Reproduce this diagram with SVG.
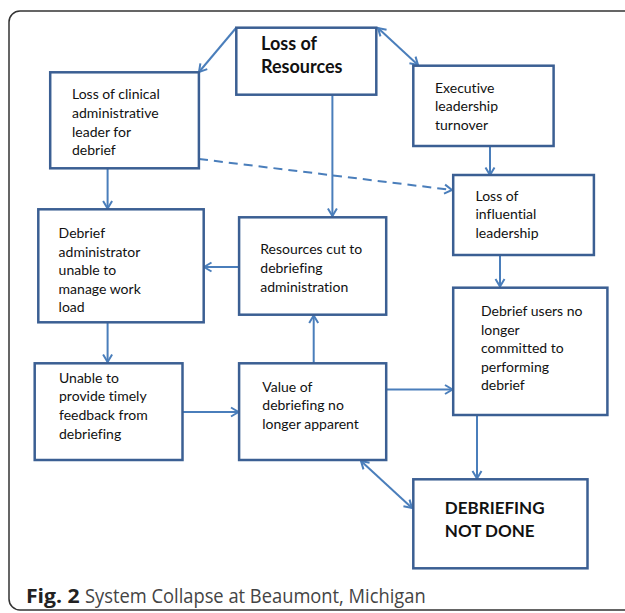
<svg xmlns="http://www.w3.org/2000/svg" width="625" height="613" viewBox="0 0 625 613">
<defs>
<style>
.box{fill:#fff;stroke:#3b5f93;stroke-width:2.5}
.t{font-family:Lato,"Liberation Sans",sans-serif;font-size:14px;fill:#111;font-variant-ligatures:none}
.b{font-family:Lato,"Liberation Sans",sans-serif;font-weight:bold;fill:#111}
.c{fill:none;stroke:#4a7ebb;stroke-width:2}
.cap{font-family:"Open Sans",Lato,sans-serif;font-size:19.5px;fill:#444}
</style>
<marker id="ah" viewBox="0 0 12 12" refX="11" refY="6" markerWidth="12" markerHeight="12" markerUnits="userSpaceOnUse" orient="auto-start-reverse">
<path d="M3.5,1.5 L11,6 L3.5,10.5" fill="none" stroke="#4a7ebb" stroke-width="2"/>
</marker>
</defs>
<rect width="625" height="613" fill="#fff"/>
<rect x="9" y="11" width="640" height="599" rx="11" ry="11" fill="none" stroke="#333" stroke-width="1.5"/>

<g id="connectors">
<line class="c" x1="236" y1="28" x2="199" y2="72" marker-end="url(#ah)"/>
<line class="c" x1="378" y1="28" x2="418" y2="65" marker-start="url(#ah)" marker-end="url(#ah)"/>
<line class="c" x1="490" y1="146" x2="490" y2="175" marker-end="url(#ah)"/>
<line class="c" x1="199" y1="159" x2="452" y2="190" stroke-dasharray="9,6" marker-end="url(#ah)"/>
<line class="c" x1="107.6" y1="168" x2="107.6" y2="208.5" marker-end="url(#ah)"/>
<line class="c" x1="332.4" y1="95" x2="332.4" y2="216" marker-end="url(#ah)"/>
<line class="c" x1="239" y1="267" x2="204" y2="267" marker-end="url(#ah)"/>
<line class="c" x1="500" y1="255" x2="500" y2="286.5" marker-end="url(#ah)"/>
<line class="c" x1="107.6" y1="322" x2="107.6" y2="362" marker-end="url(#ah)"/>
<line class="c" x1="313.7" y1="363" x2="313.7" y2="315.5" marker-end="url(#ah)"/>
<line class="c" x1="386" y1="389.5" x2="452.5" y2="389.5" marker-end="url(#ah)"/>
<line class="c" x1="182.5" y1="412" x2="238.5" y2="412" marker-end="url(#ah)"/>
<line class="c" x1="477" y1="415" x2="477" y2="478.5" marker-end="url(#ah)"/>
<line class="c" x1="361" y1="461" x2="412" y2="508" marker-start="url(#ah)" marker-end="url(#ah)"/>
</g>

<g id="loss-of-resources">
<rect class="box" x="236.3" y="27.7" width="140" height="67"/>
<text class="b" font-size="18" x="261" y="50">Loss of</text>
<text class="b" font-size="18" x="261" y="73">Resources</text>
</g>

<g id="loss-clinical">
<rect class="box" x="50.2" y="72.3" width="148.7" height="96"/>
<text class="t" x="72" y="99">Loss of clinical</text>
<text class="t" x="72" y="117.8">administrative</text>
<text class="t" x="72" y="136.6">leader for</text>
<text class="t" x="72" y="155.4">debrief</text>
</g>

<g id="executive">
<rect class="box" x="413.3" y="65.7" width="140.3" height="80.3"/>
<text class="t" x="435" y="92.7">Executive</text>
<text class="t" x="435" y="111.3">leadership</text>
<text class="t" x="435" y="130">turnover</text>
</g>

<g id="loss-influential">
<rect class="box" x="453.2" y="175" width="140.7" height="80"/>
<text class="t" x="475.5" y="200.5">Loss of</text>
<text class="t" x="475.5" y="219.3">influential</text>
<text class="t" x="475.5" y="238">leadership</text>
</g>

<g id="debrief-admin">
<rect class="box" x="38.3" y="209.3" width="165.4" height="113"/>
<text class="t" x="58.6" y="238.3">Debrief</text>
<text class="t" x="58.6" y="256.8">administrator</text>
<text class="t" x="58.6" y="275.3">unable to</text>
<text class="t" x="58.6" y="293.8">manage work</text>
<text class="t" x="58.6" y="312.3">load</text>
</g>

<g id="resources-cut">
<rect class="box" x="239.1" y="217.3" width="147.1" height="97.4"/>
<text class="t" x="260.3" y="254">Resources cut to</text>
<text class="t" x="260.3" y="272.8">debriefing</text>
<text class="t" x="260.3" y="291.6">administration</text>
</g>

<g id="debrief-users">
<rect class="box" x="453.2" y="287.7" width="154.2" height="127.3"/>
<text class="t" x="481" y="316">Debrief users  no</text>
<text class="t" x="481" y="334.6">longer</text>
<text class="t" x="481" y="353.2">committed to</text>
<text class="t" x="481" y="371.8">performing</text>
<text class="t" x="481" y="390.4">debrief</text>
</g>

<g id="unable">
<rect class="box" x="34.7" y="363.3" width="147.8" height="96.7"/>
<text class="t" x="59" y="382.7">Unable to</text>
<text class="t" x="59" y="401.3">provide timely</text>
<text class="t" x="59" y="419.9">feedback from</text>
<text class="t" x="59" y="438.5">debriefing</text>
</g>

<g id="value">
<rect class="box" x="239.1" y="363.3" width="147.1" height="96.7"/>
<text class="t" x="262.3" y="391.7">Value of</text>
<text class="t" x="262.3" y="410.2">debriefing no</text>
<text class="t" x="262.3" y="428.7">longer apparent</text>
</g>

<g id="not-done">
<rect class="box" x="413.3" y="479.3" width="174.2" height="89"/>
<text class="b" font-size="17" x="444.8" y="514.3">DEBRIEFING</text>
<text class="b" font-size="17" x="444.8" y="537.3">NOT DONE</text>
</g>

<g id="caption">
<text class="cap" font-weight="bold" fill="#222" style="fill:#222" x="26" y="602.5" textLength="53.7" lengthAdjust="spacingAndGlyphs">Fig. 2</text>
<text class="cap" x="85" y="602.5" textLength="340.7" lengthAdjust="spacingAndGlyphs">System Collapse at Beaumont, Michigan</text>
</g>
</svg>
